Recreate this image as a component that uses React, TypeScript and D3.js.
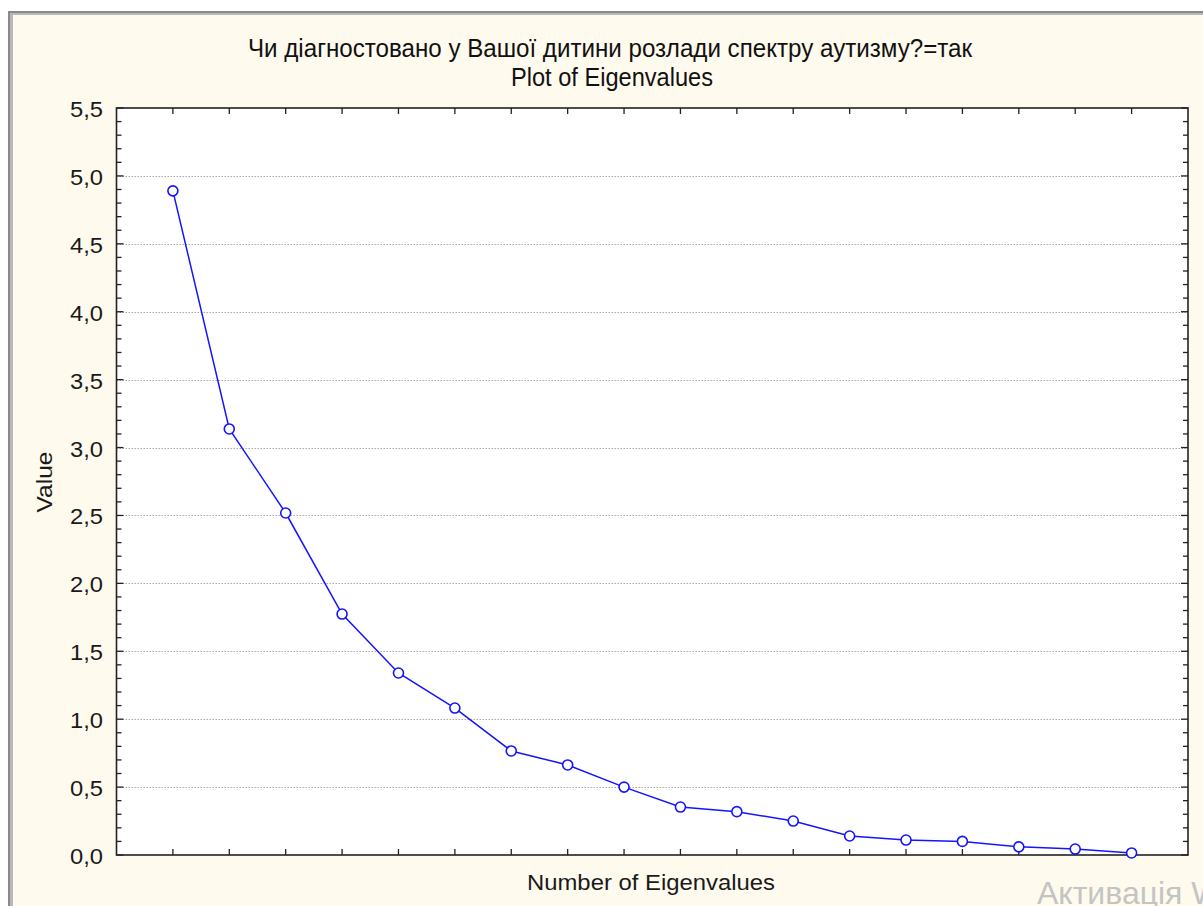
import React from "react";
import * as d3 from "d3";

const titleLine1 = "Чи діагностовано у Вашої дитини розлади спектру аутизму?=так";
const titleLine2 = "Plot of Eigenvalues";
const xAxisLabel = "Number of Eigenvalues";
const yAxisLabel = "Value";
const watermark = "Активація W";

const eigenNumbers = [1, 2, 3, 4, 5, 6, 7, 8, 9, 10, 11, 12, 13, 14, 15, 16, 17, 18];
const eigenValues = [4.89, 3.137, 2.518, 1.774, 1.34, 1.082, 0.766, 0.663, 0.5, 0.353, 0.319, 0.25, 0.14, 0.11, 0.1, 0.06, 0.044, 0.015];
const yTicks = [0, 0.5, 1, 1.5, 2, 2.5, 3, 3.5, 4, 4.5, 5, 5.5];
const yTickLabels = ["0,0", "0,5", "1,0", "1,5", "2,0", "2,5", "3,0", "3,5", "4,0", "4,5", "5,0", "5,5"];

const W = 1203;
const H = 906;
const L = 116.5;
const R = 1188;
const T = 108;
const B = 855;
const FONT = "'Liberation Sans', Arial, sans-serif";

export default function App() {
  const x = d3.scaleLinear().domain([0, 19]).range([L, R]);
  const y = d3.scaleLinear().domain([0, 5.5]).range([B, T]);
  const minor = d3.range(0, 55).map((i) => i / 10).filter((v) => Math.round(v * 10) % 5 !== 0);
  const line = d3
    .line<number>()
    .x((_, i) => x(eigenNumbers[i]))
    .y((d) => y(d));

  return (
    <svg width={W} height={H} style={{ position: "absolute", left: 0, top: 0 }} fontFamily={FONT}>
      <rect x={0} y={0} width={W} height={H} fill="#ffffff" />
      <rect x={8} y={11} width={W} height={H} fill="#8a8a8a" />
      <rect x={10} y={13} width={W} height={H} fill="#b8b8b8" />
      <rect x={13} y={15} width={W} height={H} fill="#fffaee" />

      {/* plot area */}
      <rect x={L} y={T} width={R - L} height={B - T} fill="#ffffff" />

      {/* grid */}
      {yTicks.slice(1, -1).map((v) => (
        <line key={"g" + v} x1={L} x2={R} y1={Math.round(y(v)) + 0.5} y2={Math.round(y(v)) + 0.5} stroke="#a8a8a8" strokeWidth={1} strokeDasharray="1.5 1.5" />
      ))}

      {/* ticks */}
      {yTicks.map((v) => (
        <g key={"t" + v}>
          <line x1={L} x2={L + 7} y1={y(v)} y2={y(v)} stroke="#222" strokeWidth={1.3} />
          <line x1={R} x2={R - 7} y1={y(v)} y2={y(v)} stroke="#222" strokeWidth={1.3} />
        </g>
      ))}
      {minor.map((v) => (
        <g key={"m" + v}>
          <line x1={L} x2={L + 5} y1={y(v)} y2={y(v)} stroke="#222" strokeWidth={1.3} />
          <line x1={R} x2={R - 5} y1={y(v)} y2={y(v)} stroke="#222" strokeWidth={1.3} />
        </g>
      ))}
      {eigenNumbers.map((n) => (
        <g key={"x" + n}>
          <line x1={x(n)} x2={x(n)} y1={T} y2={T + 6} stroke="#222" strokeWidth={1.3} />
          <line x1={x(n)} x2={x(n)} y1={B} y2={B - 6} stroke="#222" strokeWidth={1.3} />
        </g>
      ))}

      <rect x={L} y={T} width={R - L} height={B - T} fill="none" stroke="#222" strokeWidth={1.6} />

      {/* series */}
      <path d={line(eigenValues) || ""} fill="none" stroke="#1414ff" strokeWidth={1.5} />
      {eigenValues.map((v, i) => (
        <circle key={"p" + i} cx={x(eigenNumbers[i])} cy={y(v)} r={5} fill="#ffffff" stroke="#1414ff" strokeWidth={1.6} />
      ))}

      {/* y tick labels */}
      {yTicks.map((v, i) => (
        <text key={"l" + v} x={103} y={y(v) + 9} textAnchor="end" fontSize={22} fill="#1a1a1a" textLength={33} lengthAdjust="spacingAndGlyphs">
          {yTickLabels[i]}
        </text>
      ))}

      {/* titles */}
      <text x={610} y={57} textAnchor="middle" fontSize={25} fill="#111" textLength={724} lengthAdjust="spacingAndGlyphs">
        {titleLine1}
      </text>
      <text x={612} y={86} textAnchor="middle" fontSize={25} fill="#111" textLength={202} lengthAdjust="spacingAndGlyphs">
        {titleLine2}
      </text>
      <text x={651} y={890} textAnchor="middle" fontSize={22} fill="#1a1a1a" textLength={248} lengthAdjust="spacingAndGlyphs">
        {xAxisLabel}
      </text>
      <text transform="translate(52,482) rotate(-90)" textAnchor="middle" fontSize={22} fill="#1a1a1a" textLength={61} lengthAdjust="spacingAndGlyphs">
        {yAxisLabel}
      </text>
      <text x={1037} y={904} fontSize={32} fill="#c4c4c4">
        {watermark}
      </text>
    </svg>
  );
}
